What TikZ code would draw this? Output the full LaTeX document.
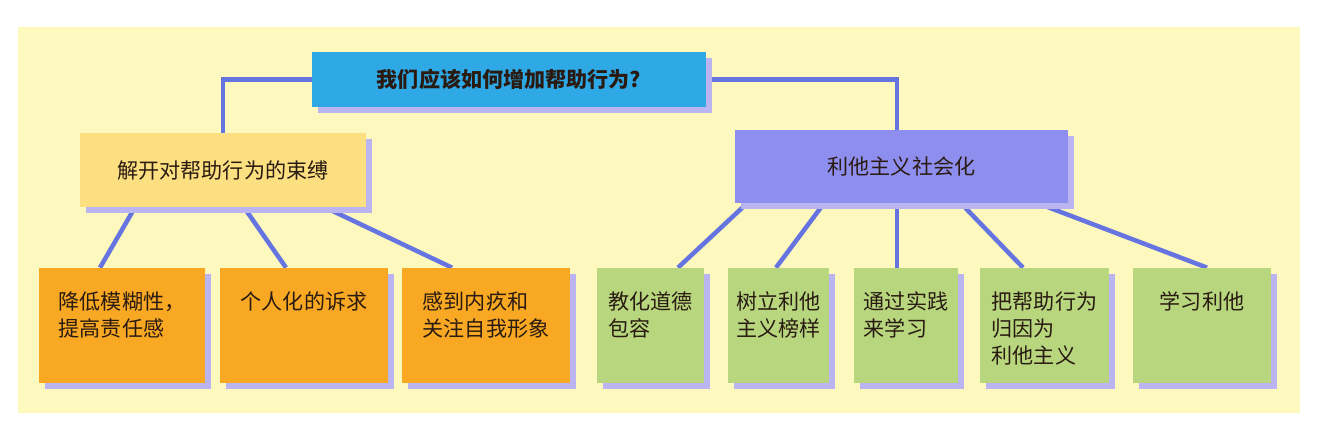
\documentclass[tikz,border=0pt]{standalone}
\usepackage{fontspec}
\setmainfont{Noto Sans CJK SC}
\usetikzlibrary{shadows,backgrounds}
\definecolor{panel}{HTML}{FCF8BE}
\definecolor{titleblue}{HTML}{2EA9E6}
\definecolor{goldbox}{HTML}{FBDF80}
\definecolor{lilacbox}{HTML}{8E8EEE}
\definecolor{orangebox}{HTML}{F8A822}
\definecolor{greenbox}{HTML}{B7D67E}
\definecolor{linkblue}{HTML}{6674E2}
\definecolor{shade}{HTML}{BAB5F0}
\definecolor{ink}{HTML}{2A1B12}
\def\px{0.02cm}
\def\boxfont{\fontsize{12pt}{15.4pt}\selectfont}
\newcommand{\leaflines}[1]{\begin{tabular}[t]{@{}l@{}}#1\end{tabular}}
\begin{document}
\begin{tikzpicture}[x=\px, y=-\px,
    every node/.style={font=\boxfont, text=ink},
    box/.style={rectangle, inner sep=0pt,
        drop shadow={shadow xshift=0.12cm, shadow yshift=-0.12cm, fill=shade, opacity=1}},
    leaf/.style={box, minimum width=#1*\px, text height=0.82cm, text depth=1.48cm},
    link/.style={draw=linkblue, line width=0.09cm}]
    \useasboundingbox (0,0) rectangle (1330,435);
    % top and middle
    \node[box, fill=titleblue, minimum width=394*\px, minimum height=55*\px,
        font=\boxfont\bfseries] (ask) at (509,79.5) {我们应该如何增加帮助行为?};
    \node[box, fill=goldbox, minimum width=286*\px, minimum height=74*\px] (free) at (223,170) {解开对帮助行为的束缚};
    \node[box, fill=lilacbox, minimum width=333*\px, minimum height=73*\px] (alt) at (901.5,166.5) {利他主义社会化};
    % leaves
    \node[leaf=166, fill=orangebox] (clarity) at (122,325.5) {\leaflines{降低模糊性，\\提高责任感}};
    \node[leaf=168, fill=orangebox] (personal) at (304,325.5) {\leaflines{个人化的诉求}};
    \node[leaf=168, fill=orangebox] (guilt) at (486,325.5) {\leaflines{感到内疚和\\关注自我形象}};
    \node[leaf=107, fill=greenbox] (moral) at (650.5,325.5) {\leaflines{教化道德\\包容}};
    \node[leaf=101, fill=greenbox] (model) at (778.5,325.5) {\leaflines{树立利他\\主义榜样}};
    \node[leaf=104, fill=greenbox] (practice) at (906,325.5) {\leaflines{通过实践\\来学习}};
    \node[leaf=129, fill=greenbox] (attrib) at (1044.5,325.5) {\leaflines{把帮助行为\\归因为\\利他主义}};
    \node[leaf=138, fill=greenbox] (learn) at (1202,325.5) {\leaflines{学习利他}};
    \begin{scope}[on background layer]
        \fill[white] (0,0) rectangle (1330,435);
        \fill[panel] (18,27) rectangle (1300,413);
        \draw[link] (ask.west) -| (free.north);
        \draw[link] (ask.east) -| ([xshift=-4.5*\px]alt.north);
        \draw[link] ([xshift=-88*\px]free.south) -- ([xshift=-22*\px]clarity.north);
        \draw[link] ([xshift=21*\px]free.south) -- ([xshift=-18*\px]personal.north);
        \draw[link] ([xshift=102*\px]free.south) -- ([xshift=-34*\px]guilt.north);
        \draw[link] ([xshift=-154.5*\px]alt.south) -- ([xshift=27.5*\px]moral.north);
        \draw[link] ([xshift=-77.5*\px]alt.south) -- ([xshift=-2.5*\px]model.north);
        \draw[link] ([xshift=-4.5*\px]alt.south) -- ([xshift=-9*\px]practice.north);
        \draw[link] ([xshift=59.5*\px]alt.south) -- ([xshift=-21.5*\px]attrib.north);
        \draw[link] ([xshift=136.5*\px]alt.south) -- ([xshift=5*\px]learn.north);
    \end{scope}
\end{tikzpicture}
\end{document}
